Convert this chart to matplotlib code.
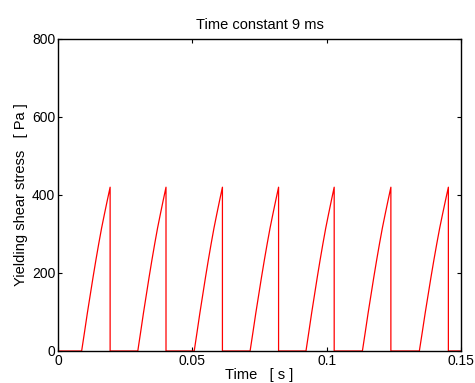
import numpy as np
import matplotlib
matplotlib.use("Agg")
import matplotlib.pyplot as plt

plt.rcParams['font.family'] = ['Liberation Sans', 'DejaVu Sans']

# start of each rise and moment of the drop (s)
rise_start = [0.0088, 0.0297, 0.0507, 0.0715, 0.0923, 0.1133, 0.1345]
drop_time = [0.0194, 0.0402, 0.0612, 0.0821, 0.1028, 0.1239, 0.1453]
# shape of one tooth: fraction of rise time -> stress (Pa)
tooth_frac = [0.0, 0.1, 0.2, 0.3, 0.4, 0.5, 0.6, 0.7, 0.8, 0.9, 1.0]
tooth_stress = [0, 48, 97, 143, 189, 233, 275, 315, 351, 386, 420]
t_end = 0.15

# build the piecewise curve
t = [0.0]
s = [0.0]
for t0, t1 in zip(rise_start, drop_time):
    t.append(t0)
    s.append(0.0)
    for f, v in zip(tooth_frac, tooth_stress):
        t.append(t0 + f * (t1 - t0))
        s.append(v)
    t.append(t1)
    s.append(0.0)
t.append(t_end)
s.append(0.0)

fig = plt.figure(figsize=(4.75, 3.83), dpi=100)
ax = fig.add_axes([58/475, 32/383, 403/475, 312/383])
ax.plot(t, s, color='red', lw=0.9)

ax.set_xlim(0, 0.15)
ax.set_ylim(0, 800)
ax.set_xticks([0, 0.05, 0.1, 0.15])
ax.set_xticklabels(['0', '0.05', '0.1', '0.15'])
ax.set_yticks([0, 200, 400, 600, 800])
ax.tick_params(direction='in', top=True, right=True, length=3, width=0.8,
               labelsize=10, pad=2)
for sp in ax.spines.values():
    sp.set_linewidth(1.0)

ax.set_title('Time constant 9 ms', fontsize=10.5, pad=7)
ax.set_xlabel('Time   [ s ]', fontsize=10.5, labelpad=0)
ax.set_ylabel('Yielding shear stress   [ Pa ]', fontsize=10.5, labelpad=3)

fig.savefig('out.png', dpi=100)
